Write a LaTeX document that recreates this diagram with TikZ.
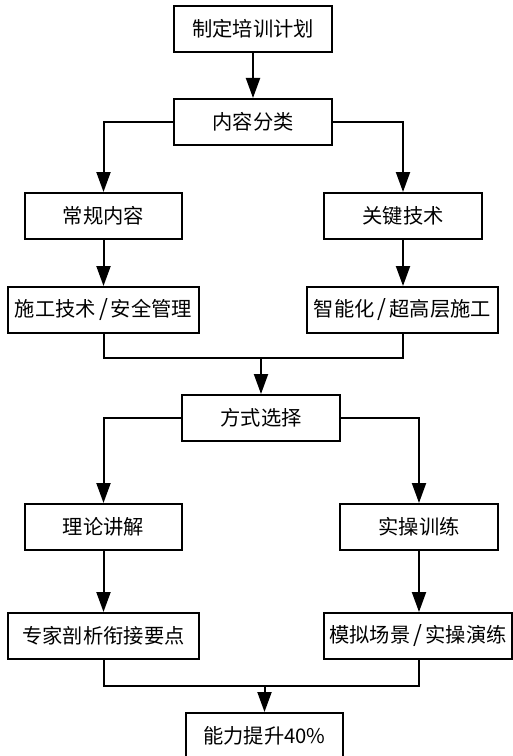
\documentclass[tikz,border=0pt]{standalone}
\usepackage{fontspec}
\setmainfont{Noto Sans CJK SC}
\usetikzlibrary{arrows.meta,positioning}
\newcommand{\sep}{\hspace{0.15em}{\fontsize{17pt}{18pt}\selectfont/}\hspace{0.15em}}

\begin{document}
\begin{tikzpicture}[
  x=0.75pt, y=-0.75pt,
  font=\fontsize{15.2pt}{18pt}\selectfont,
  >={Triangle[length=15pt,width=10.5pt]},
  flowbox/.style={
    draw=black,
    fill=white,
    line width=1.5pt,
    minimum height=34.5pt,
    inner sep=0pt,
    align=center
  },
  narrowbox/.style={flowbox, minimum width=118pt},
  widebox/.style={flowbox, minimum width=143pt},
  flowarrow/.style={
    ->,
    line width=1.5pt,
    draw=black
  },
  flowline/.style={
    line width=1.5pt,
    draw=black
  }
]
  \useasboundingbox (0,0) rectangle (513,756);

  % Top: plan and content split
  \node[narrowbox] (plan) at (253,29) {制定培训计划};
  \node[narrowbox] (sort) at (253,122) {内容分类};

  % Content branches
  \node[narrowbox] (common) at (103.5,216) {常规内容};
  \node[narrowbox] (keytech) at (403,216) {关键技术};
  \node[widebox] (safety) at (103.5,310) {施工技术\sep 安全管理};
  \node[widebox] (smart) at (402.5,310) {智能化\sep 超高层施工};

  % Method choice
  \node[narrowbox] (mode) at (261,418) {方式选择};
  \node[narrowbox] (theory) at (103.5,527) {理论讲解};
  \node[narrowbox] (practice) at (419,527) {实操训练};
  \node[widebox] (expert) at (103.5,636) {专家剖析衔接要点};
  \node[widebox, minimum width=141pt] (drill) at (418,636) {模拟场景\sep 实操演练};

  % Result (runs off the bottom edge)
  \node[narrowbox] (result) at (264.5,736) {能力提升40\%};

  % Merge points
  \coordinate (join1) at (261,358);
  \coordinate (join2) at (264.5,686);

  % Connecting Arrows
  \draw[flowarrow] (plan.south) -- (sort.north);
  \draw[flowarrow] (sort.west) -| (common.north);
  \draw[flowarrow] (sort.east) -| (keytech.north);
  \draw[flowarrow] (common.south) -- (safety.north);
  \draw[flowarrow] (keytech.south) -- (smart.north -| keytech.south);

  \draw[flowline] (safety.south) |- (join1) -| (smart.south);
  \draw[flowarrow] (join1) -- (mode.north);

  \draw[flowarrow] (mode.west) -| (theory.north);
  \draw[flowarrow] (mode.east) -| (practice.north);
  \draw[flowarrow] (theory.south) -- (expert.north -| theory.south);
  \draw[flowarrow] (practice.south) -- (drill.north -| practice.south);

  \draw[flowline] (expert.south -| theory.south) |- (join2) -| (drill.south -| practice.south);
  \draw[flowarrow] (join2) -- (result.north);

\end{tikzpicture}
\end{document}
